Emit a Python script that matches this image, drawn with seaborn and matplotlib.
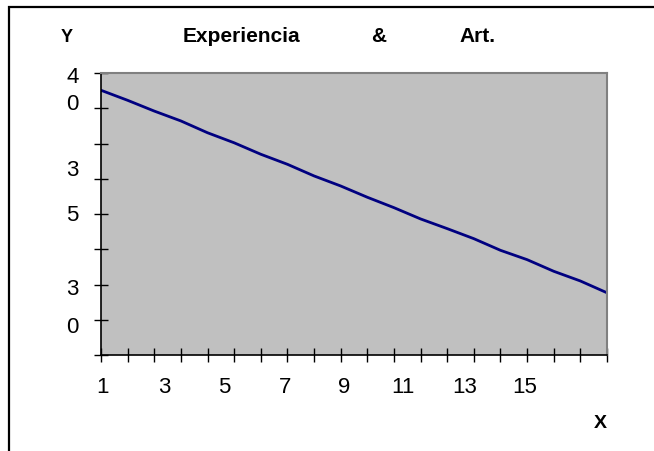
import matplotlib
matplotlib.use("Agg")
import matplotlib.pyplot as plt
import seaborn as sns
import pandas as pd
from matplotlib.patches import Rectangle
from matplotlib.ticker import FixedLocator, NullFormatter

# ---- data ----
x_values = list(range(1, 21))
y_values = [39.02, 38.45, 37.84, 37.28, 36.61, 36.04, 35.39, 34.82, 34.16, 33.59,
            32.95, 32.36, 31.72, 31.17, 30.60, 29.94, 29.41, 28.75, 28.20, 27.53]
x_tick_labels = ["1", "3", "5", "7", "9", "11", "13", "15"]
y_tick_labels = ["4", "0", "3", "5", "3", "0"]
title_words = ["Y", "Experiencia", "&", "Art."]
x_axis_label = "X"

# ---- layout (label placement, not data) ----
x_label_pos = [1.04, 3.37, 5.62, 7.91, 10.14, 12.34, 14.67, 16.92]
y_label_pos = [39.94, 38.40, 34.67, 32.10, 27.91, 25.76]

sns.set_theme(style="white")
plt.rcParams["font.family"] = ["Liberation Sans", "DejaVu Sans"]

W, H = 654, 452
fig = plt.figure(figsize=(W / 100, H / 100), dpi=100)
fig.patch.set_facecolor("white")
ax = fig.add_axes([101 / W, (H - 356) / H, 506 / W, 282 / H])
ax.set_facecolor("#C0C0C0")

df = pd.DataFrame({"x": x_values, "y": y_values})
sns.lineplot(data=df, x="x", y="y", ax=ax, color="#000080", linewidth=2.0)

ax.set_xlim(1, 20)
ax.set_ylim(24, 40)
ax.set_xlabel("")
ax.set_ylabel("")

# tick marks (minor) and labels (major, no marks)
ax.xaxis.remove_overlapping_locs = False
ax.yaxis.remove_overlapping_locs = False
ax.xaxis.set_minor_locator(FixedLocator(x_values))
ax.yaxis.set_minor_locator(FixedLocator([24 + 2 * i for i in range(9)]))
ax.xaxis.set_minor_formatter(NullFormatter())
ax.yaxis.set_minor_formatter(NullFormatter())
ax.set_xticks(x_label_pos, x_tick_labels)
ax.set_yticks(y_label_pos, y_tick_labels)
ax.tick_params(axis="both", which="major", length=0, labelsize=16, colors="black")
ax.tick_params(axis="x", which="major", pad=15)
ax.tick_params(axis="y", which="major", pad=16)
ax.tick_params(axis="both", which="minor", direction="inout", length=10, width=1,
               color="black", bottom=True, left=True)

for s in ["left", "bottom"]:
    ax.spines[s].set_color("black")
    ax.spines[s].set_linewidth(1.2)
for s in ["top", "right"]:
    ax.spines[s].set_color("#808080")
    ax.spines[s].set_linewidth(1.5)
ax.grid(False)

# title words
title_x = [67, 241, 379, 477]
title_sizes = [13, 15, 15, 15]
for word, px, fs in zip(title_words, title_x, title_sizes):
    fig.text(px / W, 1 - 42 / H, word, ha="center", va="baseline",
             fontsize=fs, fontweight="bold", color="black")
fig.text(600 / W, 1 - 428 / H, x_axis_label, ha="center", va="baseline",
         fontsize=14, fontweight="bold", color="black")

# outer frame (left and top visible)
fig.add_artist(Rectangle((9 / W, -0.1), 1.2, 1 - 8 / H + 0.1, transform=fig.transFigure,
                         fill=False, edgecolor="black", linewidth=1.6, clip_on=False))

fig.savefig("out.png", dpi=100, facecolor="white")
